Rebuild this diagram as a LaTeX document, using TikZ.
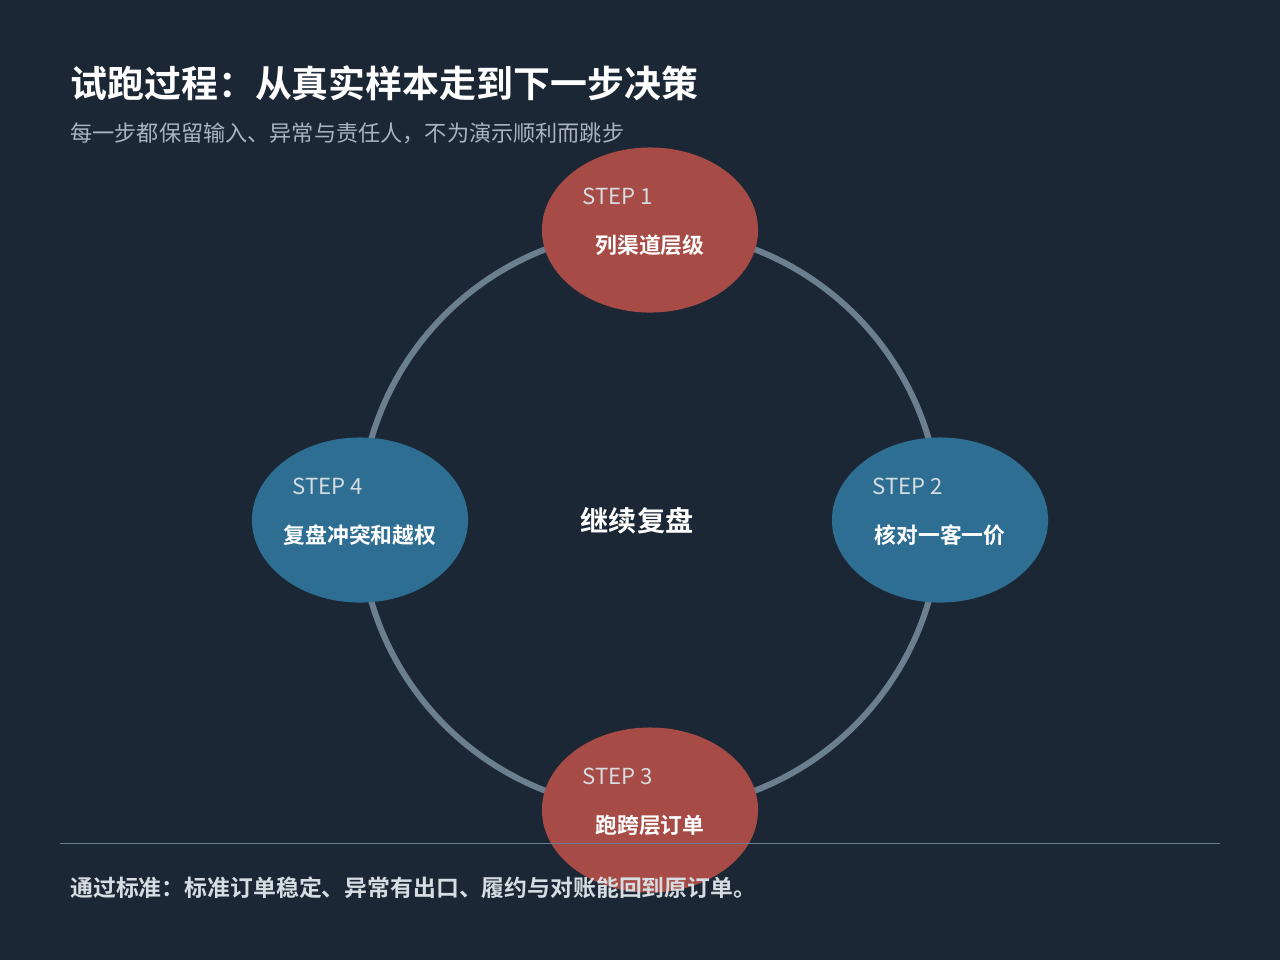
\documentclass[tikz,border=0pt]{standalone}
\usepackage{fontspec}
\setmainfont{Noto Sans CJK SC}
\newfontfamily\cjkbold{Noto Sans CJK SC Bold}
\definecolor{bgc}{HTML}{1B2735}
\definecolor{ringc}{HTML}{6B7F8F}
\definecolor{redc}{HTML}{A64B45}
\definecolor{bluec}{HTML}{2E6E92}
\definecolor{subc}{HTML}{A9B4BE}
\definecolor{footc}{HTML}{D5DCE2}
\usetikzlibrary{shapes.geometric}
\tikzset{
  stepnode/.style={ellipse, minimum width=2.16cm, minimum height=1.65cm, inner sep=0pt},
  steplbl/.style={text=footc, font=\fontsize{6.3}{7}\selectfont, anchor=west},
  stepname/.style={text=white, font=\cjkbold\fontsize{6.2}{7}\selectfont},
}
\begin{document}
\begin{tikzpicture}[x=0.01cm, y=-0.01cm]
    \fill[bgc] (0,0) rectangle (1280,960);
    \useasboundingbox (0,0) rectangle (1280,960);
    % ring
    \draw[ringc, line width=0.06cm] (650,520) circle (2.9cm);
    % steps
    \node[stepnode, fill=redc]  (s1) at (650,230) {};
    \node[stepnode, fill=bluec] (s2) at (940,520) {};
    \node[stepnode, fill=redc]  (s3) at (650,810) {};
    \node[stepnode, fill=bluec] (s4) at (360,520) {};
    \node[steplbl] at (570,196) {STEP 1};
    \node[stepname] at (650,245) {列渠道层级};
    \node[steplbl] at (860,486) {STEP 2};
    \node[stepname] at (940,535) {核对一客一价};
    \node[steplbl] at (570,776) {STEP 3};
    \node[stepname] at (650,825) {跑跨层订单};
    \node[steplbl] at (280,486) {STEP 4};
    \node[stepname] at (360,535) {复盘冲突和越权};
    \node[text=white, font=\cjkbold\fontsize{8}{9}\selectfont] (mid) at (637,521) {继续复盘};
    % title
    \node[anchor=west, text=white, font=\cjkbold\fontsize{10.5}{12}\selectfont] (title) at (58,83) {试跑过程：从真实样本走到下一步决策};
    \node[anchor=west, text=subc, font=\fontsize{6.3}{7}\selectfont] (sub) at (58,133) {每一步都保留输入、异常与责任人，不为演示顺利而跳步};
    % footer
    \draw[ringc, line width=0.3pt] (60,843) -- (1220,843);
    \node[anchor=west, text=footc, font=\cjkbold\fontsize{6.5}{7}\selectfont] (foot) at (58,888) {通过标准：标准订单稳定、异常有出口、履约与对账能回到原订单。};
\end{tikzpicture}
\end{document}
